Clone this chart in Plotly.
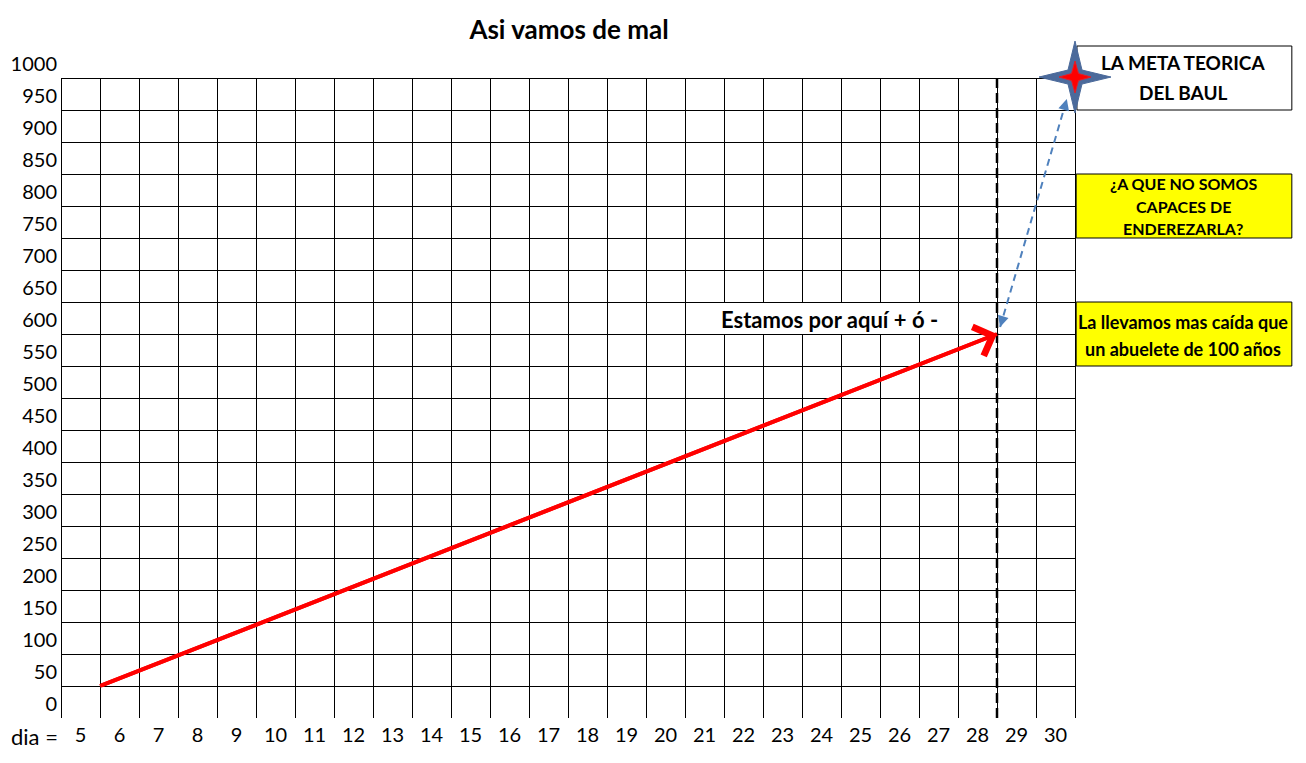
import plotly.graph_objects as go

# ---------------- data ----------------
days = list(range(5, 31))                  # column labels ("dia =")
y_values = list(range(0, 1001, 50))        # row labels
trend_x = [5.5, 28.5]                      # red trend arrow
trend_y = [25, 575]
today_x = [28.5, 28.5]                     # dashed "today" line
today_y = [-25, 975]
gap_x = [28.58, 30.29]                     # blue dashed double arrow
gap_y = [586, 942]
star_x = [30.5]
star_y = [975]

title_text = "Asi vamos de mal"
here_text = "Estamos por aquí + ó -"
here_pos = (27.04, 597)
box_meta_lines = ["LA META TEORICA", "DEL BAUL"]
box_meta_y = [1000, 952]
box_q_lines = ["¿A QUE NO SOMOS", "CAPACES DE", "ENDEREZARLA?"]
box_q_y = [810, 774, 740]
box_fall_lines = ["La llevamos mas caída que", "un abuelete de 100 años"]
box_fall_y = [594, 551]
box_text_x = 33.27

FONT = "Lato"
OFF = 8                                   # page body margin
W, H = 1306 - OFF, 763 - 2 * OFF
ML, MR, MT, MB = 61 - OFF, 1, 30 - OFF, 37
COLW = 39.0
ROWH = 0.64  # px per unit
xr = [4.5, 4.5 + (W - ML - MR) / COLW]
yr = [-25, -25 + (H - MT - MB) / ROWH]
cx = 0.5 / COLW   # half-pixel offsets for crisp 1px lines
cy = 0.5 / ROWH

fig = go.Figure()

# ---------------- grid ----------------
shapes = []
x_edges = [d - 0.5 for d in days] + [days[-1] + 0.5]
y_edges = [v - 25 for v in y_values if v < y_values[-1]] + [y_values[-1] - 25]
gx0, gx1 = x_edges[0], x_edges[-1]
gy0, gy1 = y_edges[0], y_edges[-1]
grid_line = dict(color="black", width=1)
for ye in y_edges:
    shapes.append(dict(type="line", xref="x", yref="y", x0=gx0, x1=gx1 + 2 * cx,
                       y0=ye - cy, y1=ye - cy, line=grid_line, layer="below"))
# row holding the "Estamos..." text: vertical lines hidden where the text overflows
for xe in x_edges:
    if 21.5 <= xe <= 26.5:
        segs = [(gy0, 575), (625, gy1)]
    else:
        segs = [(gy0, gy1)]
    for a, b in segs:
        shapes.append(dict(type="line", xref="x", yref="y", x0=xe + cx, x1=xe + cx,
                           y0=a - 2 * cy, y1=b, line=grid_line, layer="below"))

# ---------------- boxes ----------------
shapes.append(dict(type="rect", xref="x", yref="y", x0=30.55, x1=36.06, y0=925, y1=1025,
                   fillcolor="white", line=dict(color="black", width=1)))
shapes.append(dict(type="rect", xref="x", yref="y", x0=30.53, x1=36.06, y0=725, y1=825,
                   fillcolor="#FFFF00", line=dict(color="black", width=1)))
shapes.append(dict(type="rect", xref="x", yref="y", x0=30.53, x1=36.06, y0=525, y1=625,
                   fillcolor="#FFFF00", line=dict(color="black", width=1)))

# ---------------- star ----------------
def star_path(r, i):
    pts = [(0, -r), (i, -i), (r, 0), (i, i), (0, r), (-i, i), (-r, 0), (-i, -i)]
    return "M" + " L".join(f"{a},{b}" for a, b in pts) + " Z"

shapes.append(dict(type="path", xref="x", yref="y", xsizemode="pixel", ysizemode="pixel",
                   xanchor=star_x[0], yanchor=star_y[0] + 1.5, path=star_path(36, 7),
                   fillcolor="#4B6A9B", line=dict(color="#4B6A9B", width=1)))
shapes.append(dict(type="path", xref="x", yref="y", xsizemode="pixel", ysizemode="pixel",
                   xanchor=star_x[0], yanchor=star_y[0] + 1.5, path=star_path(16, 3.5),
                   fillcolor="#FF0000", line=dict(color="#E0202A", width=1)))

# ---------------- traces ----------------
fig.add_trace(go.Scatter(x=today_x, y=today_y, mode="lines",
                         line=dict(color="black", width=2.5, dash="10px,5px"),
                         hoverinfo="skip", showlegend=False))
fig.add_trace(go.Scatter(x=trend_x, y=trend_y, mode="lines",
                         line=dict(color="#FF0000", width=4),
                         hoverinfo="skip", showlegend=False))
fig.add_trace(go.Scatter(x=gap_x, y=gap_y, mode="lines",
                         line=dict(color="#4F81BD", width=2, dash="7px,5px"),
                         hoverinfo="skip", showlegend=False))

annotations = []
# open arrow head for the trend
annotations.append(dict(x=trend_x[-1], y=trend_y[-1], ax=trend_x[0], ay=trend_y[0],
                        xref="x", yref="y", axref="x", ayref="y", text="",
                        showarrow=True, arrowhead=4, arrowsize=1.5, arrowwidth=4,
                        arrowcolor="#FF0000"))
# heads of the blue double arrow
for tip, back in ((1, 0), (0, 1)):
    fx = gap_x[tip] + 0.04 * (gap_x[back] - gap_x[tip])
    fy = gap_y[tip] + 0.04 * (gap_y[back] - gap_y[tip])
    annotations.append(dict(x=gap_x[tip], y=gap_y[tip], ax=fx, ay=fy,
                            xref="x", yref="y", axref="x", ayref="y", text="",
                            showarrow=True, arrowhead=2, arrowsize=1.1, arrowwidth=2,
                            arrowcolor="#4F81BD"))
annotations.append(dict(x=here_pos[0], y=here_pos[1], xref="x", yref="y", xanchor="right",
                        yanchor="middle", showarrow=False, text="<b>" + here_text + "</b>",
                        font=dict(family=FONT, size=22, color="black")))
for t, yy in zip(box_meta_lines, box_meta_y):
    annotations.append(dict(x=box_text_x, y=yy, xref="x", yref="y", showarrow=False,
                            text="<b>" + t + "</b>",
                            font=dict(family=FONT, size=19, color="black")))
for t, yy in zip(box_q_lines, box_q_y):
    annotations.append(dict(x=box_text_x, y=yy, xref="x", yref="y", showarrow=False,
                            text="<b>" + t + "</b>",
                            font=dict(family=FONT, size=16, color="black")))
for t, yy in zip(box_fall_lines, box_fall_y):
    annotations.append(dict(x=box_text_x, y=yy, xref="x", yref="y", showarrow=False,
                            text="<b>" + t + "</b>",
                            font=dict(family=FONT, size=18, color="black")))
annotations.append(dict(x=xr[0], y=yr[0], xref="x", yref="y", xanchor="right",
                        yanchor="middle", xshift=-1, yshift=-18, showarrow=False,
                        text="dia =", font=dict(family=FONT, size=22, color="black")))

fig.update_layout(
    width=W, height=H,
    margin=dict(l=ML, r=MR, t=MT, b=MB, autoexpand=False),
    paper_bgcolor="white", plot_bgcolor="white",
    title=dict(text="<b>" + title_text + "</b>", x=(569 - OFF) / W, xref="container",
               xanchor="center", y=1 - (30 - OFF) / H, yref="container", yanchor="middle",
               font=dict(family=FONT, size=26, color="black")),
    shapes=shapes, annotations=annotations,
    xaxis=dict(range=xr, tickvals=days, ticktext=[str(d) for d in days],
               showgrid=False, zeroline=False, showline=False, ticks="",
               ticklabelstandoff=3,
               tickfont=dict(family=FONT, size=20, color="black"), fixedrange=True),
    yaxis=dict(range=yr, tickvals=y_values, ticktext=[str(v) for v in y_values],
               showgrid=False, zeroline=False, showline=False, ticks="",
               ticklabelstandoff=3, ticklabelshift=2,
               tickfont=dict(family=FONT, size=20, color="black"), fixedrange=True),
    showlegend=False,
)

fig.write_html("out.html")
